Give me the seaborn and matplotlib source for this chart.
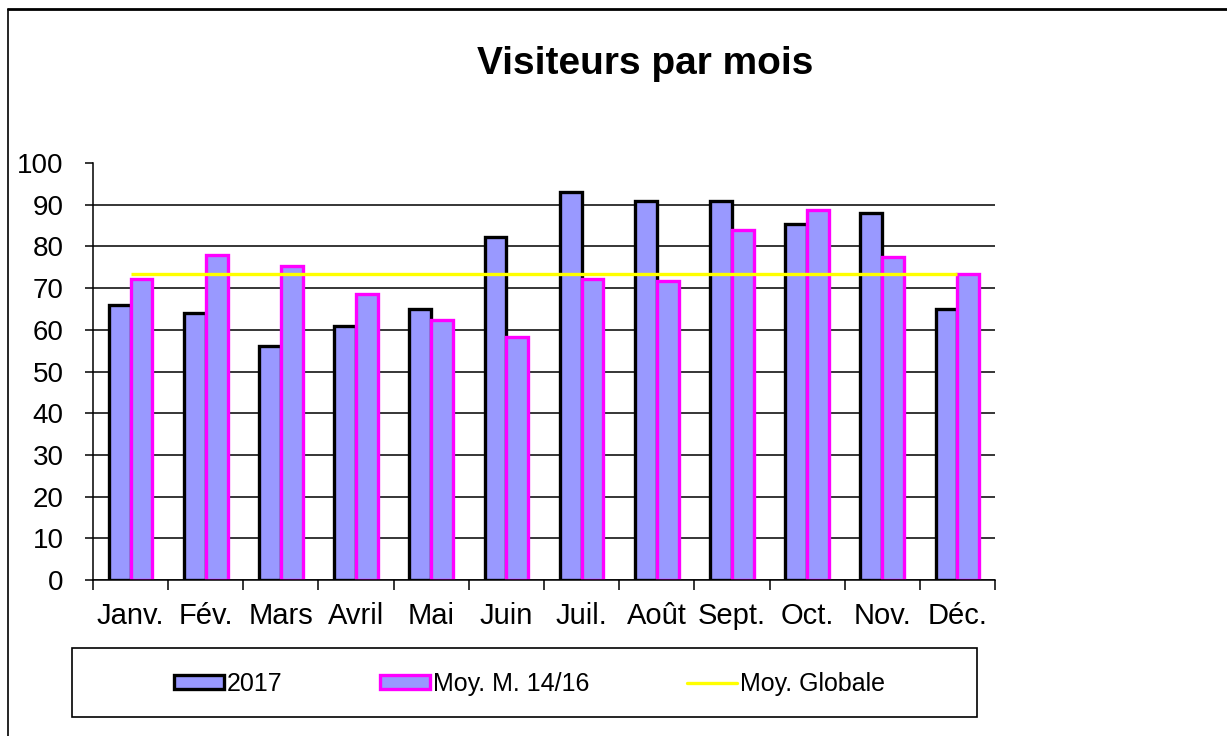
import pandas as pd
import matplotlib.pyplot as plt
import seaborn as sns
from matplotlib.lines import Line2D
from matplotlib.patches import Rectangle

# valeurs
mois = ['Janv.', 'Fév.', 'Mars', 'Avril', 'Mai', 'Juin',
        'Juil.', 'Août', 'Sept.', 'Oct.', 'Nov.', 'Déc.']
visiteurs_2017 = [66, 64, 56, 61, 65, 82.2, 93.1, 91, 91, 85.4, 88, 65]
moy_14_16 = [72.3, 77.9, 75.2, 68.5, 62.3, 58.2, 72.1, 71.6, 84, 88.8, 77.4, 73.4]
moy_globale = 73.4
series = ['2017', 'Moy. M. 14/16']

data = pd.concat([
    pd.DataFrame({'mois': mois, 'valeur': visiteurs_2017, 'serie': series[0]}),
    pd.DataFrame({'mois': mois, 'valeur': moy_14_16, 'serie': series[1]}),
])

sns.set_theme(style='white')
plt.rcParams['font.family'] = ['Liberation Sans', 'DejaVu Sans']
plt.rcParams['text.color'] = 'black'

fig = plt.figure(figsize=(12.27, 7.36), dpi=100)
ax = fig.add_axes([93 / 1227, 1 - 580 / 736, (995 - 93) / 1227, (580 - 163) / 736])

sns.barplot(data=data, x='mois', y='valeur', hue='serie', order=mois,
            palette=['#9999FF', '#9999FF'], width=0.58, gap=0,
            errorbar=None, legend=False, ax=ax, saturation=1)

for cont, ec in zip(ax.containers, ['black', '#FF00FF']):
    for bar in cont:
        bar.set_edgecolor(ec)
        bar.set_linewidth(2.4)

ax.hlines(moy_globale, 0, len(mois) - 1, color='#FFFF00', lw=2.4, zorder=5)

ax.set_xlim(-0.5, len(mois) - 0.5)
ax.set_ylim(0, 100)
ax.set_yticks(range(0, 101, 10))
ax.yaxis.grid(True, color='black', lw=1.1)
ax.get_ygridlines()[-1].set_visible(False)
ax.set_axisbelow(True)
ax.set_xlabel('')
ax.set_ylabel('')

sns.despine(ax=ax, top=True, right=True)
for s in ['left', 'bottom']:
    ax.spines[s].set_color('black')
    ax.spines[s].set_linewidth(1.1)

ax.set_xticks([i - 0.5 for i in range(len(mois) + 1)], minor=True)
ax.tick_params(axis='x', which='major', length=0, pad=16, labelsize=21, colors='black')
ax.tick_params(axis='x', which='minor', length=7, width=1.1, direction='out', color='black', bottom=True)
ax.tick_params(axis='y', length=6, width=1.1, direction='out', pad=15, labelsize=20,
               colors='black', left=True)

fig.text(0.526, 1 - 64 / 736, 'Visiteurs par mois', ha='center', va='center',
         fontsize=28, fontweight='bold', color='black')

# cadre de la légende
fig.add_artist(Rectangle((72 / 1227, 1 - 717 / 736), (977 - 72) / 1227, 69 / 736,
                         transform=fig.transFigure, fill=False, ec='black', lw=1.2))
handles = [ax.containers[0], ax.containers[1],
           Line2D([], [], color='#FFFF00', lw=2.4)]
fig.legend(handles, series + ['Moy. Globale'], loc='center',
           bbox_to_anchor=(529 / 1227, 1 - 684 / 736), ncol=3, frameon=False,
           fontsize=18, labelcolor='black', handlelength=2.0, handleheight=0.5,
           handletextpad=0.12, columnspacing=3.9)

# bordure de la figure
fig.add_artist(Line2D([8 / 1227, 8 / 1227], [0, 1 - 9 / 736], color='black', lw=1.2,
                      transform=fig.transFigure))
fig.add_artist(Line2D([8 / 1227, 1], [1 - 9 / 736, 1 - 9 / 736], color='black', lw=2,
                      transform=fig.transFigure))

plt.savefig('out.png', dpi=100)
